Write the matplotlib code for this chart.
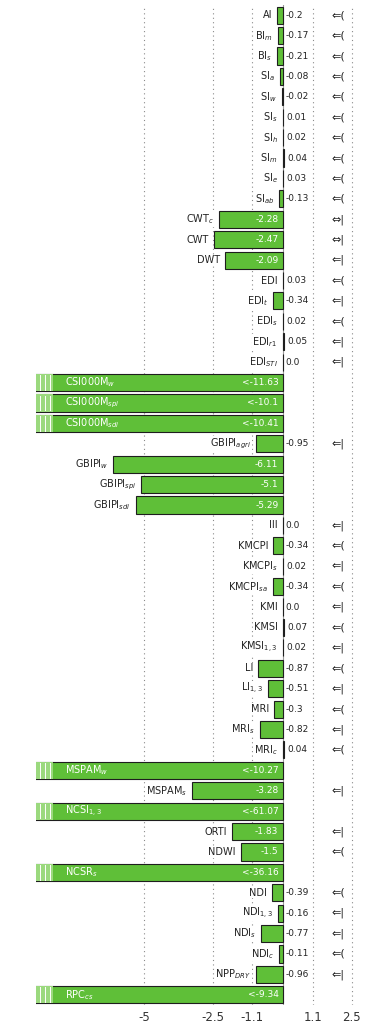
import matplotlib
matplotlib.use("Agg")
import matplotlib.pyplot as plt
from matplotlib.patches import Rectangle

plt.rcParams["axes.unicode_minus"] = False
plt.rcParams["font.family"] = ["DejaVu Sans"]

# Index names (top to bottom)
names = [
    "AI", "BI$_{m}$", "BI$_{s}$", "SI$_{a}$", "SI$_{w}$", "SI$_{s}$", "SI$_{h}$",
    "SI$_{m}$", "SI$_{e}$", "SI$_{ab}$",
    "CWT$_{c}$", "CWT", "DWT",
    "EDI", "EDI$_{t}$", "EDI$_{s}$", "EDI$_{r1}$", "EDI$_{STI}$",
    "CSI000M$_{w}$", "CSI000M$_{spi}$", "CSI000M$_{sdi}$",
    "GBIPI$_{agri}$", "GBIPI$_{w}$", "GBIPI$_{spi}$", "GBIPI$_{sdi}$",
    "III", "KMCPI", "KMCPI$_{s}$", "KMCPI$_{sa}$", "KMI", "KMSI", "KMSI$_{1,3}$",
    "LI", "LI$_{1,3}$", "MRI", "MRI$_{s}$", "MRI$_{c}$",
    "MSPAM$_{w}$", "MSPAM$_{s}$", "NCSI$_{1,3}$", "ORTI", "NDWI", "NCSR$_{s}$",
    "NDI", "NDI$_{1,3}$", "NDI$_{s}$", "NDI$_{c}$", "NPP$_{DRY}$", "RPC$_{cs}$",
]

# Change values per index
values = [
    -0.2, -0.17, -0.21, -0.08, -0.02, 0.01, 0.02, 0.04, 0.03, -0.13,
    -2.28, -2.47, -2.09,
    0.03, -0.34, 0.02, 0.05, 0.0,
    -11.63, -10.1, -10.41,
    -0.95, -6.11, -5.1, -5.29,
    0.0, -0.34, 0.02, -0.34, 0.0, 0.07, 0.02,
    -0.87, -0.51, -0.3, -0.82, 0.04,
    -10.27, -3.28, -61.07, -1.83, -1.5, -36.16,
    -0.39, -0.16, -0.77, -0.11, -0.96, -9.34,
]

# Trend symbols in the right-hand column
symbols = [
    "⇐(", "⇐(", "⇐(", "⇐(", "⇐(", "⇐(", "⇐(", "⇐(", "⇐(", "⇐(",
    "⇔|", "⇔|", "⇐|",
    "⇐(", "⇐|", "⇐(", "⇐|", "⇐|",
    "", "", "",
    "⇐|", "", "", "",
    "⇐|", "⇐(", "⇐|", "⇐(", "⇐|", "⇐(", "⇐|",
    "⇐(", "⇐|", "⇐(", "⇐|", "⇐(",
    "", "⇐|", "", "⇐|", "⇐(", "",
    "⇐(", "⇐|", "⇐|", "⇐(", "⇐|", "",
]

tick_values = [-5, -2.5, -1.1, 1.1, 2.5]
tick_labels = ["-5", "-2.5", "-1.1", "1.1", "2.5"]

XMIN, XMAX = -8.9, 2.93
GREEN = "#5fbf38"
LIGHT = "#9bd97e"
BAR_H = 0.84


def fmt(v):
    s = f"{v:.2f}".rstrip("0")
    if s.endswith("."):
        s += "0"
    if s == "-0.0":
        s = "0.0"
    return s


fig = plt.figure(figsize=(3.68, 10.31), dpi=100)
ax = fig.add_axes([36 / 368, 26 / 1031, 327.7 / 368, 1000 / 1031])

n = len(names)
ys = list(range(n))

ax.barh(ys, values, height=BAR_H, color=GREEN, edgecolor="#1e1e1e",
        linewidth=0.8, zorder=2)
ax.axvline(0, color="#9a9a9a", lw=0.8, zorder=1)

for i, (name, v, sym) in enumerate(zip(names, values, symbols)):
    clipped = v < XMIN
    if clipped:
        # broken-bar marker at the left edge
        ax.add_patch(Rectangle((XMIN, i - BAR_H / 2), 0.62, BAR_H,
                               facecolor=LIGHT, edgecolor="none", zorder=3))
        for xl in (XMIN + 0.16, XMIN + 0.33, XMIN + 0.5):
            ax.plot([xl, xl], [i - BAR_H / 2 + 0.06, i + BAR_H / 2 - 0.06],
                    color="white", lw=0.7, zorder=3.5)
        ax.text(-7.85, i, name, ha="left", va="center", fontsize=7,
                color="white", zorder=4)
        ax.text(-0.15, i, "<" + fmt(v), ha="right", va="center",
                fontsize=6.5, color="white", zorder=4)
    else:
        ax.text(min(v, 0) - 0.18, i, name, ha="right", va="center",
                fontsize=7, color="#222222", zorder=4,
                bbox=dict(facecolor="white", edgecolor="none", pad=0.4))
        if abs(v) >= 1.0:
            ax.text(-0.15, i, fmt(v), ha="right", va="center",
                    fontsize=6.5, color="white", zorder=4)
        else:
            ax.text(max(v, 0) + 0.12, i, fmt(v), ha="left", va="center",
                    fontsize=6.5, color="#222222", zorder=4)
    if sym:
        ax.text(1.75, i, sym, ha="left", va="center", fontsize=8,
                color="#222222", zorder=4)

ax.set_xlim(XMIN, XMAX)
ax.set_ylim(n - 0.5, -0.5)
ax.set_xticks(tick_values)
ax.set_xticklabels(tick_labels, fontsize=8.5, color="#333333")
ax.set_yticks([])
ax.tick_params(axis="x", length=0, pad=4)
ax.xaxis.grid(True, linestyle=(0, (1, 3)), color="#8a8a8a", lw=0.8)
ax.set_axisbelow(True)
for sp in ax.spines.values():
    sp.set_visible(False)

fig.savefig("out.png", dpi=100)
